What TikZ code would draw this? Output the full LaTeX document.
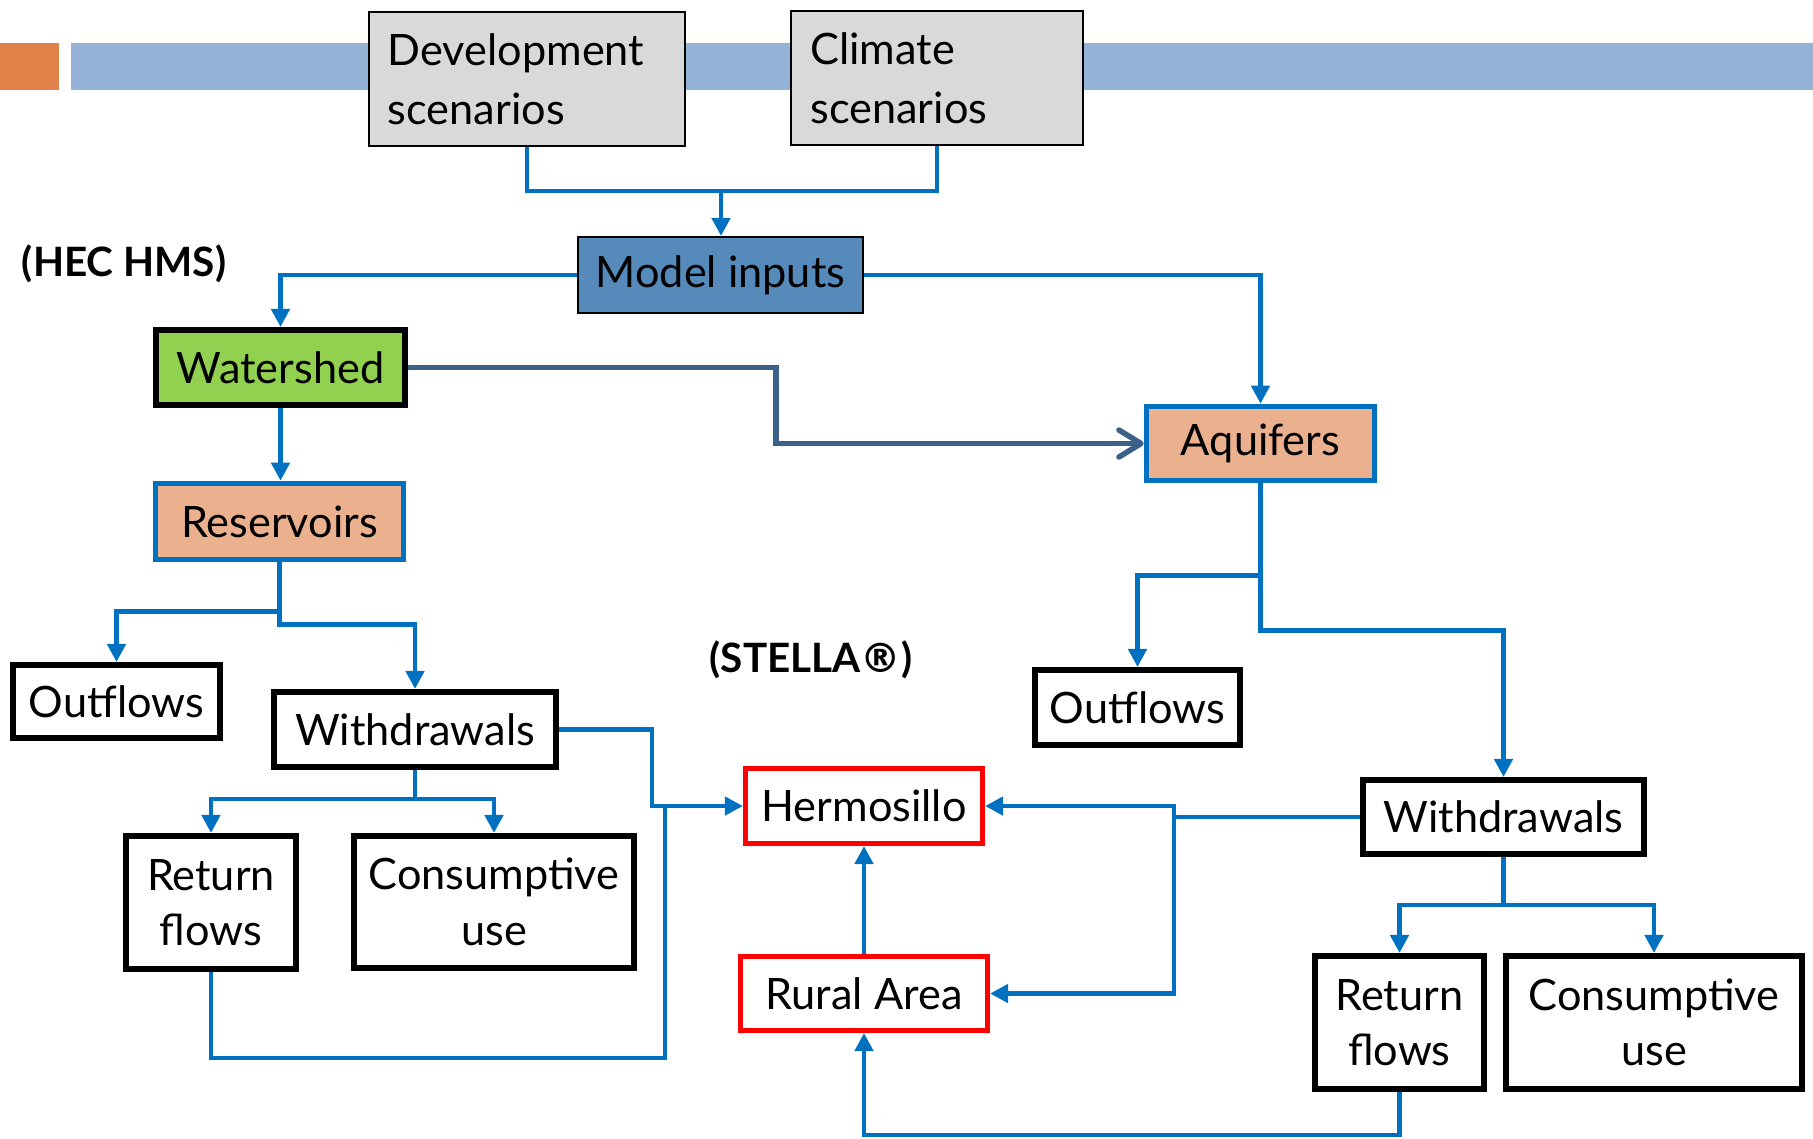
\documentclass[tikz,border=0pt]{standalone}
\usepackage{fontspec}
\setmainfont{Lato}
\newfontfamily\symfamily{DejaVu Sans}
\usetikzlibrary{arrows.meta}

\definecolor{linkblue}{HTML}{0070C0}
\definecolor{slateblue}{HTML}{3B6188}
\definecolor{barblue}{HTML}{95B3D7}
\definecolor{barorange}{HTML}{E0824A}
\definecolor{scengrey}{HTML}{D9D9D9}
\definecolor{modelblue}{HTML}{558ABB}
\definecolor{shedgreen}{HTML}{92D050}
\definecolor{peach}{HTML}{EBB18F}

\tikzset{
    box/.style={rectangle, draw, align=center, inner sep=0pt,
        font=\fontsize{12.3}{15.8}\selectfont},
    scenbox/.style={box, fill=scengrey, line width=0.02cm, align=left,
        minimum height=1.33cm, inner xsep=0.19cm,
        font=\fontsize{12.3}{16.8}\selectfont},
    modelbox/.style={box, fill=modelblue, line width=0.02cm},
    blackbox/.style={box, fill=white, line width=0.06cm},
    waterbox/.style={box, draw=linkblue, fill=peach, line width=0.055cm},
    citybox/.style={box, draw=red, fill=white, line width=0.05cm},
    toollabel/.style={font=\fontsize{11.5}{13}\selectfont\bfseries},
    conn/.style={draw=linkblue, line width=0.047cm},
    arr/.style={conn, -{Triangle[length=0.18cm,width=0.18cm]}},
    slatearr/.style={draw=slateblue, line width=0.055cm,
        -{Straight Barb[length=0.22cm,width=0.27cm,round]}}
}

\begin{document}
\begin{tikzpicture}[x=0.01cm, y=-0.01cm]
    \useasboundingbox (0,0) rectangle (1813,1138);
    % title bar
    \fill[barorange] (0,43) rectangle (59,90);
    \fill[barblue] (71,43) rectangle (1813,90);

    % scenarios and inputs
    \node[scenbox, minimum width=3.16cm, text width=2.78cm] (dev) at (527,79) {Development\\scenarios};
    \node[scenbox, minimum width=2.91cm, text width=2.53cm] (clim) at (937,78) {Climate\\scenarios};
    \node[modelbox, minimum width=2.85cm, minimum height=0.76cm] (model) at (720.5,275) {Model inputs};
    \coordinate (split) at (721,191);

    % HEC HMS side
    \node[toollabel] (hec) at (124,264) {(HEC HMS)};
    \node[blackbox, fill=shedgreen, minimum width=2.49cm, minimum height=0.75cm] (water) at (280.5,367.5) {Watershed};
    \node[waterbox, minimum width=2.48cm, minimum height=0.76cm] (resv) at (279.5,521.5) {Reservoirs};
    \node[blackbox, minimum width=2.07cm, minimum height=0.73cm] (outL) at (116.5,701.5) {Outflows};
    \node[blackbox, minimum width=2.82cm, minimum height=0.75cm] (wdL) at (415,729.5) {Withdrawals};
    \node[blackbox, minimum width=1.70cm, minimum height=1.33cm] (retL) at (211,902.5) {Return\\flows};
    \node[blackbox, minimum width=2.80cm, minimum height=1.32cm] (conL) at (494,902) {Consumptive\\use};

    % STELLA side
    \node[toollabel] (stella) at (811,660) {(STELLA{\symfamily\bfseries ®})};
    \node[waterbox, minimum width=2.28cm, minimum height=0.74cm] (aqu) at (1260.5,443.5) {Aquifers};
    \node[blackbox, minimum width=2.05cm, minimum height=0.75cm] (outR) at (1137.5,707.5) {Outflows};
    \node[citybox, minimum width=2.37cm, minimum height=0.75cm] (herm) at (864,806) {Hermosillo};
    \node[citybox, minimum width=2.47cm, minimum height=0.74cm] (rural) at (864,993.5) {Rural Area};
    \node[blackbox, minimum width=2.81cm, minimum height=0.74cm] (wdR) at (1503.5,817) {Withdrawals};
    \node[blackbox, minimum width=1.69cm, minimum height=1.33cm] (retR) at (1399.5,1022.5) {Return\\flows};
    \node[blackbox, minimum width=2.96cm, minimum height=1.33cm] (conR) at (1654,1022.5) {Consumptive\\use};
    \coordinate (wbend) at (776,367.5);
    \coordinate (hjoin) at (665,806);
    \coordinate (rjoin) at (1174,817);

    % connectors
    \draw[conn] (dev.south) |- (split) -| (clim.south);
    \draw[arr] (split) -- (split |- model.north);
    \draw[arr] (model.west) -| (water.north);
    \draw[arr] (model.east) -| (aqu.north);
    \draw[slatearr] (water.east) -- (wbend) |- (aqu.west);
    \draw[arr] (water.south) -- (water.south |- resv.north);
    \draw[arr] (resv.south) -- ++(0,49) -| (outL.north);
    \draw[arr] (resv.south) -- ++(0,62) -| (wdL.north);
    \draw[arr] (wdL.east) -- ++(93,0) |- (herm.west);
    \draw[arr] (wdL.south) -- ++(0,29) -| (retL.north);
    \draw[arr] (wdL.south) -- ++(0,29) -| (conL.north);
    \draw[conn] (retL.south) -- ++(0,86) -| (hjoin);
    \draw[arr] (aqu.south) -- ++(0,92) -| (outR.north);
    \draw[arr] (aqu.south) -- ++(0,147) -| (wdR.north);
    \draw[arr] (wdR.west) -- (rjoin) |- (herm.east);
    \draw[arr] (rjoin) |- (rural.east);
    \draw[arr] (wdR.south) -- ++(0,48) -| (retR.north);
    \draw[arr] (wdR.south) -- ++(0,48) -| (conR.north);
    \draw[arr] (retR.south) -- ++(0,43) -| (rural.south);
    \draw[arr] (rural.north) -- (herm.south);
\end{tikzpicture}
\end{document}
